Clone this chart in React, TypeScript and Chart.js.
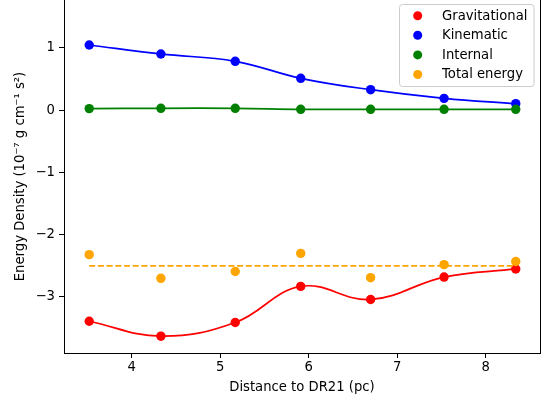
import React, { useEffect, useRef } from "react";
import { Chart, registerables } from "chart.js";

Chart.register(...registerables);

// ---- Data ----
const distances = [3.52, 4.33, 5.17, 5.91, 6.7, 7.53, 8.34];
const gravitational = [-3.39, -3.63, -3.41, -2.83, -3.04, -2.68, -2.55];
const kinematic = [1.048, 0.904, 0.786, 0.513, 0.33, 0.191, 0.106];
const internal = [0.026, 0.031, 0.031, 0.015, 0.015, 0.015, 0.015];
const totalEnergy = [-2.32, -2.7, -2.59, -2.3, -2.69, -2.48, -2.43];
const totalMean = -2.5;
const xTicks = [4, 5, 6, 7, 8];
const yTicks = [-3, -2, -1, 0, 1];
const seriesLabels = ["Gravitational", "Kinematic", "Internal", "Total energy"];
const seriesColors = ["#ff0000", "#0000ff", "#008000", "#ffa500"];
const xTitle = "Distance to DR21 (pc)";
const yTitle = "Energy Density (10\u207B\u2077 g cm\u207B\u00B9 s\u00B2)";

const FONT = "'DejaVu Sans', sans-serif";
const FS = 13.2;

const toPts = (ys: number[]) => distances.map((x, i) => ({ x, y: ys[i] }));

const framePlugin = {
  id: "frameAndLegend",
  afterDatasetsDraw(chart: any) {
    const { ctx, chartArea } = chart;
    ctx.save();
    // right spine
    ctx.strokeStyle = "#000";
    ctx.lineWidth = 1;
    ctx.beginPath();
    ctx.moveTo(Math.round(chartArea.right) + 0.5, chartArea.top);
    ctx.lineTo(Math.round(chartArea.right) + 0.5, chartArea.bottom + 0.5);
    ctx.stroke();

    // legend
    const bx = 399.5, by = 4.5, bw = 134.5, bh = 82;
    const r = 3;
    ctx.beginPath();
    ctx.moveTo(bx + r, by);
    ctx.lineTo(bx + bw - r, by);
    ctx.quadraticCurveTo(bx + bw, by, bx + bw, by + r);
    ctx.lineTo(bx + bw, by + bh - r);
    ctx.quadraticCurveTo(bx + bw, by + bh, bx + bw - r, by + bh);
    ctx.lineTo(bx + r, by + bh);
    ctx.quadraticCurveTo(bx, by + bh, bx, by + bh - r);
    ctx.lineTo(bx, by + r);
    ctx.quadraticCurveTo(bx, by, bx + r, by);
    ctx.closePath();
    ctx.fillStyle = "rgba(255,255,255,0.8)";
    ctx.fill();
    ctx.strokeStyle = "#cccccc";
    ctx.lineWidth = 1;
    ctx.stroke();

    ctx.font = `${FS}px ${FONT}`;
    ctx.textBaseline = "middle";
    ctx.textAlign = "left";
    seriesLabels.forEach((lab, i) => {
      const y = 15.7 + i * 19.6;
      ctx.beginPath();
      ctx.arc(417.7, y, 4.5, 0, Math.PI * 2);
      ctx.fillStyle = seriesColors[i];
      ctx.fill();
      ctx.fillStyle = "#000";
      ctx.fillText(lab, 442, y + 0.5);
    });
    ctx.restore();
  },
};

export default function App() {
  const ref = useRef<HTMLCanvasElement | null>(null);

  useEffect(() => {
    if (!ref.current) return;
    const lineDs = (label: string, ys: number[], color: string) => ({
      label,
      data: toPts(ys),
      borderColor: color,
      backgroundColor: color,
      borderWidth: 1.7,
      pointRadius: 4.7,
      pointBorderWidth: 0,
      pointBackgroundColor: color,
      showLine: true,
      tension: 0.4,
      fill: false,
    });
    const chart = new Chart(ref.current, {
      type: "scatter",
      data: {
        datasets: [
          {
            label: "mean",
            data: [
              { x: distances[0], y: totalMean },
              { x: distances[distances.length - 1], y: totalMean },
            ],
            borderColor: seriesColors[3],
            backgroundColor: seriesColors[3],
            borderWidth: 1.9,
            borderDash: [6, 2.7],
            pointRadius: 0,
            showLine: true,
            fill: false,
          } as any,
          {
            label: seriesLabels[3],
            data: toPts(totalEnergy),
            backgroundColor: seriesColors[3],
            borderColor: seriesColors[3],
            pointRadius: 4.7,
            pointBorderWidth: 0,
            showLine: false,
          },
          lineDs(seriesLabels[2], internal, seriesColors[2]),
          lineDs(seriesLabels[1], kinematic, seriesColors[1]),
          lineDs(seriesLabels[0], gravitational, seriesColors[0]),
        ],
      },
      options: {
        responsive: false,
        animation: false,
        devicePixelRatio: 1,
        layout: { autoPadding: false, padding: { top: 0, right: 9, left: 0, bottom: 0 } },
        plugins: {
          legend: { display: false },
          tooltip: { enabled: false },
        },
        scales: {
          x: {
            type: "linear",
            min: 3.235,
            max: 8.614,
            afterFit: (s: any) => {
              s.height = 47;
              s.paddingLeft = 0;
              s.paddingRight = 0;
            },
            afterBuildTicks: (s: any) => {
              s.ticks = xTicks.map((v) => ({ value: v }));
            },
            grid: {
              drawOnChartArea: false,
              drawTicks: true,
              tickLength: 5,
              tickWidth: 1,
              tickColor: "#000",
            },
            border: { display: true, color: "#000", width: 1 },
            ticks: {
              color: "#000",
              padding: 2,
              font: { family: FONT, size: FS },
              maxRotation: 0,
              callback: (v: any) => String(v),
            },
            title: {
              display: true,
              text: xTitle,
              color: "#000",
              font: { family: FONT, size: FS },
              padding: { top: 0, bottom: 5 },
            },
          },
          y: {
            type: "linear",
            min: -3.9,
            max: 1.771,
            afterFit: (s: any) => {
              s.width = 64;
              s.paddingTop = 0;
              s.paddingBottom = 0;
            },
            afterBuildTicks: (s: any) => {
              s.ticks = yTicks.map((v) => ({ value: v }));
            },
            grid: {
              drawOnChartArea: false,
              drawTicks: true,
              tickLength: 5,
              tickWidth: 1,
              tickColor: "#000",
            },
            border: { display: true, color: "#000", width: 1 },
            ticks: {
              color: "#000",
              padding: 4,
              font: { family: FONT, size: FS },
              callback: (v: any) =>
                Number(v) < 0 ? "\u2212" + String(Math.abs(Number(v))) : String(v),
            },
            title: {
              display: true,
              text: yTitle,
              color: "#000",
              font: { family: FONT, size: FS },
              padding: { top: 12.8, bottom: 4 },
            },
          },
        },
      },
      plugins: [framePlugin],
    } as any);
    return () => chart.destroy();
  }, []);

  return (
    <div
      style={{
        position: "absolute",
        left: 0,
        top: 0,
        width: 549,
        height: 400,
        background: "#fff",
      }}
    >
      <canvas ref={ref} width={549} height={400} />
    </div>
  );
}
